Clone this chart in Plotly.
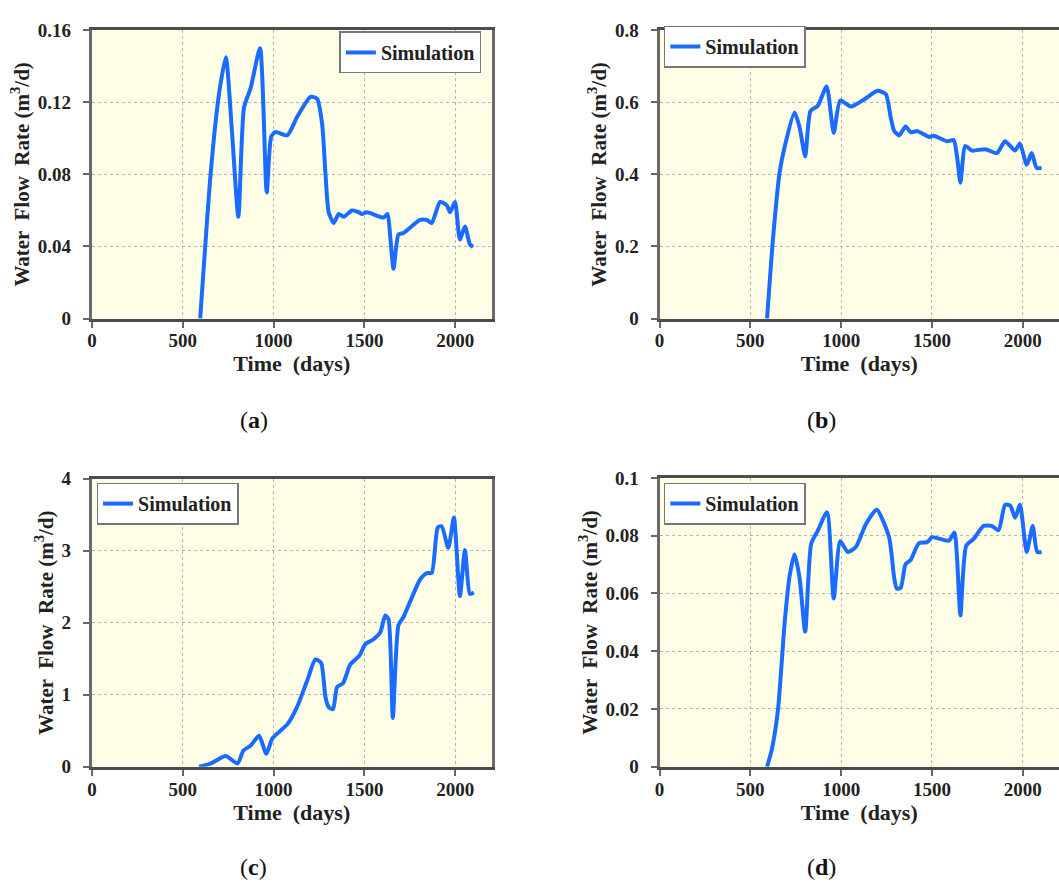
import plotly.graph_objects as go

# ---------------- data ----------------
days_a = [596, 654, 700, 737, 770, 806, 837, 874, 925, 962, 987, 1011, 1075, 1130, 1203, 1239, 1267,
          1285, 1303, 1331, 1358, 1386, 1431, 1468, 1486, 1514, 1605, 1627, 1642, 1660, 1687, 1715,
          1806, 1843, 1870, 1916, 1953, 1971, 1998, 2025, 2053, 2080, 2098]
rate_a = [0.0, 0.081, 0.125, 0.145, 0.105, 0.0565, 0.117, 0.128, 0.150, 0.070, 0.101, 0.1035, 0.1017,
          0.112, 0.123, 0.122, 0.108, 0.081, 0.059, 0.053, 0.058, 0.0565, 0.060, 0.059, 0.058, 0.059,
          0.056, 0.058, 0.045, 0.0276, 0.0466, 0.0475, 0.0547, 0.0547, 0.053, 0.0647, 0.0628, 0.059,
          0.0647, 0.0439, 0.0511, 0.0412, 0.0397]

days_b = [592, 625, 661, 689, 743, 771, 802, 831, 871, 920, 959, 995, 1054, 1127, 1200, 1246, 1273,
          1291, 1319, 1355, 1383, 1419, 1483, 1510, 1584, 1620, 1638, 1657, 1684, 1721, 1794, 1858,
          1903, 1958, 1985, 2022, 2049, 2077, 2104]
rate_b = [0.0, 0.224, 0.405, 0.477, 0.572, 0.531, 0.450, 0.576, 0.590, 0.644, 0.515, 0.605, 0.588,
          0.608, 0.632, 0.623, 0.558, 0.522, 0.508, 0.533, 0.517, 0.520, 0.504, 0.507, 0.492, 0.495,
          0.450, 0.377, 0.479, 0.466, 0.470, 0.459, 0.492, 0.466, 0.486, 0.427, 0.459, 0.418, 0.418]

days_c = [590, 654, 737, 801, 834, 874, 920, 960, 993, 1075, 1130, 1185, 1230, 1261, 1285, 1303, 1327,
          1349, 1382, 1422, 1473, 1504, 1550, 1587, 1614, 1632, 1656, 1687, 1715, 1806, 1843, 1870,
          1903, 1925, 1961, 1992, 2025, 2053, 2080, 2102]
rate_c = [0.0, 0.045, 0.149, 0.045, 0.226, 0.294, 0.43, 0.18, 0.393, 0.588, 0.836, 1.198, 1.49, 1.446,
          0.972, 0.827, 0.80, 1.107, 1.16, 1.42, 1.546, 1.70, 1.77, 1.866, 2.10, 2.05, 0.678, 1.966,
          2.08, 2.60, 2.69, 2.69, 3.32, 3.34, 3.04, 3.46, 2.37, 3.01, 2.40, 2.42]

days_d = [592, 619, 652, 689, 716, 743, 771, 802, 835, 871, 922, 959, 995, 1036, 1081, 1136, 1196,
          1264, 1291, 1306, 1328, 1355, 1383, 1428, 1474, 1501, 1593, 1624, 1638, 1657, 1689, 1730,
          1784, 1830, 1867, 1903, 1931, 1958, 1985, 2022, 2055, 2080, 2104]
rate_d = [0.0, 0.0062, 0.0197, 0.050, 0.066, 0.0736, 0.0654, 0.0468, 0.0772, 0.0817, 0.0881, 0.0583,
          0.0781, 0.0744, 0.0761, 0.084, 0.089, 0.0795, 0.066, 0.0617, 0.062, 0.0702, 0.0716, 0.0774,
          0.0778, 0.0795, 0.0783, 0.0811, 0.0727, 0.0524, 0.0766, 0.0789, 0.0834, 0.0834, 0.0819,
          0.0907, 0.0905, 0.0862, 0.0907, 0.0744, 0.0834, 0.0744, 0.0744]

x_ticks = [0, 500, 1000, 1500, 2000]
y_ticks_a = [0, 0.04, 0.08, 0.12, 0.16]
y_ticks_b = [0, 0.2, 0.4, 0.6, 0.8]
y_ticks_c = [0, 1, 2, 3, 4]
y_ticks_d = [0, 0.02, 0.04, 0.06, 0.08, 0.1]
y_labels_a = ["0", "0.04", "0.08", "0.12", "0.16"]
y_labels_b = ["0", "0.2", "0.4", "0.6", "0.8"]
y_labels_c = ["0", "1", "2", "3", "4"]
y_labels_d = ["0", "0.02", "0.04", "0.06", "0.08", "0.1"]
captions = ["a", "b", "c", "d"]
series_name = "Simulation"
x_title = "Time  (days)"
y_title = "Water  Flow  Rate (m<sup>3</sup>/d)"

# ---------------- styling ----------------
W, H = 1059, 891
FONT = "Liberation Serif"
LINE_COLOR = "#1A6BFF"
BG = "#FEFEE6"
FRAME = "#4d4d4d"
GRID = "#b5b5b5"

panels = [
    dict(x=days_a, y=rate_a, yt=y_ticks_a, yl=y_labels_a, yr=[0, 0.16],
         dom_x=[87.3, 489.0], dom_y=[20.7, 316.0], right=True,
         leg=(336, 22), cap=(250, 420)),
    dict(x=days_b, y=rate_b, yt=y_ticks_b, yl=y_labels_b, yr=[0, 0.8],
         dom_x=[657.7, 1059.0], dom_y=[20.7, 316.0], right=False,
         leg=(662, 16), cap=(820, 420)),
    dict(x=days_c, y=rate_c, yt=y_ticks_c, yl=y_labels_c, yr=[0, 4],
         dom_x=[87.3, 489.0], dom_y=[480.0, 775.0], right=True,
         leg=(92, 484), cap=(250, 878)),
    dict(x=days_d, y=rate_d, yt=y_ticks_d, yl=y_labels_d, yr=[0, 0.1],
         dom_x=[657.7, 1059.0], dom_y=[479.3, 775.0], right=False,
         leg=(662, 484), cap=(820, 878)),
]

fig = go.Figure()
layout = dict(
    width=W, height=H,
    margin=dict(l=0, r=0, t=0, b=0),
    paper_bgcolor="white",
    plot_bgcolor=BG,
    showlegend=True,
    font=dict(family=FONT, color="#1a1a1a"),
)

annotations = []
for i, p in enumerate(panels):
    n = "" if i == 0 else str(i + 1)
    leg = "legend" if i == 0 else f"legend{i + 1}"
    fig.add_trace(go.Scatter(
        x=p["x"], y=p["y"], mode="lines", name=series_name,
        line=dict(color=LINE_COLOR, width=4, shape="spline", smoothing=0.6),
        xaxis=f"x{n}", yaxis=f"y{n}", legend=leg, showlegend=True,
    ))
    xd = [p["dom_x"][0] / W, p["dom_x"][1] / W]
    yd = [1 - p["dom_y"][1] / H, 1 - p["dom_y"][0] / H]
    layout[f"xaxis{n}"] = dict(
        domain=xd, anchor=f"y{n}", range=[0, 2200],
        tickvals=x_ticks, ticktext=[str(v) for v in x_ticks],
        showgrid=True, gridcolor=GRID, griddash="dot", gridwidth=1,
        showline=True, linecolor=FRAME, linewidth=3, mirror=True,
        ticks="outside", ticklen=6, tickwidth=1.5, tickcolor="#666",
        ticklabelstandoff=-3,
        tickfont=dict(family=FONT, size=19, weight="bold", color="#222"),
        title=dict(text=x_title, font=dict(family=FONT, size=22, weight="bold", color="#222"),
                   standoff=4),
        zeroline=False, fixedrange=True,
    )
    layout[f"yaxis{n}"] = dict(
        domain=yd, anchor=f"x{n}", range=p["yr"],
        tickvals=p["yt"], ticktext=p["yl"],
        showgrid=True, gridcolor=GRID, griddash="dot", gridwidth=1,
        showline=True, linecolor="#6a6a6a", linewidth=3, mirror=p["right"],
        ticks="outside", ticklen=6, tickwidth=1.5, tickcolor="#666",
        ticklabelstandoff=8,
        tickfont=dict(family=FONT, size=19, weight="bold", color="#222"),
        title=dict(text=y_title, font=dict(family=FONT, size=21, weight="bold", color="#222"),
                   standoff=3),
        zeroline=False, fixedrange=True,
    )
    layout[leg] = dict(
        x=p["leg"][0] / W, y=1 - p["leg"][1] / H, xanchor="left", yanchor="top",
        bgcolor="white", bordercolor="#777", borderwidth=1.5,
        font=dict(family=FONT, size=20, weight="bold", color="#222"),
        itemwidth=30,
    )
    annotations.append(dict(
        x=p["cap"][0] / W, y=1 - p["cap"][1] / H, xref="paper", yref="paper",
        text=f"(<b>{captions[i]}</b>)", showarrow=False,
        font=dict(family=FONT, size=24, color="#111"),
        xanchor="center", yanchor="middle",
    ))

layout["annotations"] = annotations
fig.update_layout(**layout)
fig.write_html("out.html")
